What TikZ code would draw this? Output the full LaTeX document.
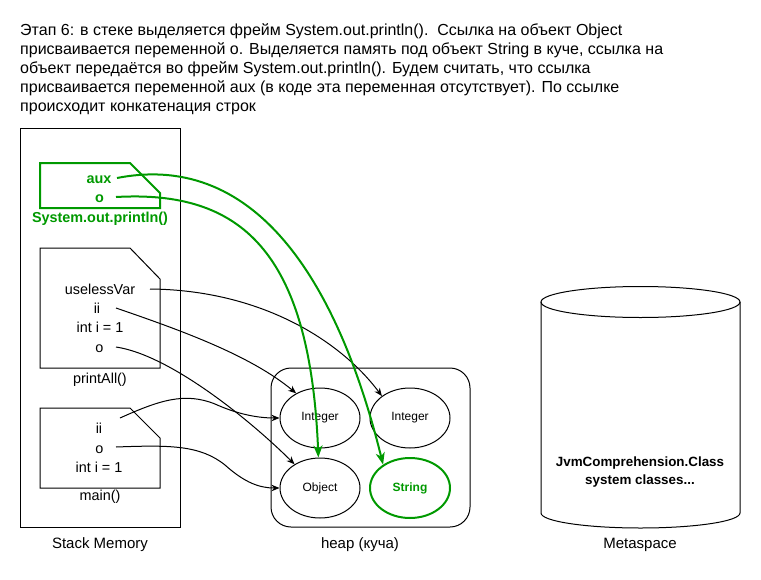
\documentclass[tikz,border=0pt]{standalone}
\usepackage{fontspec}
\setmainfont{Liberation Sans}
\usetikzlibrary{arrows.meta,shapes.geometric}
\definecolor{grn}{RGB}{0,153,0}
\begin{document}
\begin{tikzpicture}[x=1pt,y=-1pt,
  hdr/.style={anchor=base west, inner sep=0pt, font=\fontsize{16}{19}\selectfont},
  txt/.style={anchor=mid, inner sep=0pt, yshift=-2.5pt, font=\fontsize{14.4}{17}\selectfont},
  lbl/.style={anchor=mid, inner sep=0pt, yshift=-2.5pt, font=\fontsize{15}{17}\selectfont},
  gtxt/.style={anchor=mid, inner sep=0pt, yshift=-2pt, text=grn, font=\fontsize{14.4}{17}\selectfont\bfseries},
  mtxt/.style={anchor=mid, inner sep=0pt, yshift=-2pt, font=\fontsize{13.4}{16}\selectfont\bfseries},
  obj/.style={ellipse, draw, line width=1pt, minimum width=80pt, minimum height=60pt, inner sep=0pt, font=\fontsize{12}{14}\selectfont},
  frame/.style={draw, line width=1pt},
  conn/.style={draw, line width=1pt, -{Stealth[length=8pt,width=6.5pt,inset=2.5pt]}},
  gconn/.style={draw=grn, line width=2pt, -{Stealth[length=12pt,width=9pt,inset=3.5pt]}}
]
\useasboundingbox (0,0) rectangle (761,579);

% header
\node[hdr] (h1) at (20,35) {Этап 6: в стеке выделяется фрейм System.out.println().\ \ Ссылка на объект Object};
\node[hdr] (h2) at (20,54) {присваивается переменной o. Выделяется память под объект String в куче, ссылка на};
\node[hdr] (h3) at (20,73) {объект передаётся во фрейм System.out.println(). Будем считать, что ссылка};
\node[hdr] (h4) at (20,92) {присваивается переменной aux (в коде эта переменная отсутствует). По ссылке};
\node[hdr] (h5) at (20,111) {происходит конкатенация строк};

% stack memory
\draw[frame] (20,128) rectangle (180,527);
\node[lbl] (stacklbl) at (100,543) {Stack Memory};

% System.out.println() frame
\draw[draw=grn, line width=2pt] (40,163) -- (130,163) -- (160,193) -- (160,208) -- (40,208) -- cycle;
\node[gtxt] (aux) at (99,178.5) {aux};
\node[gtxt] (so) at (99.5,198) {o};
\node[gtxt] (sysl) at (100,218) {System.out.println()};
\coordinate (auxS) at (117,178);
\coordinate (soS) at (116,197);

% printAll frame
\draw[frame] (40,248) -- (130,248) -- (160,279) -- (160,368) -- (40,368) -- cycle;
\node[txt] (uv) at (100,289) {uselessVar};
\node[txt] (pii) at (97,308) {ii};
\node[txt] (pi) at (100,327) {int i = 1};
\node[txt] (po) at (99.5,347) {o};
\node[txt] (pal) at (100,378) {printAll()};
\coordinate (uvS) at (150,289);
\coordinate (piiS) at (116,308);
\coordinate (poS) at (116,347);

% main frame
\draw[frame] (40,408) -- (130,408) -- (160,438) -- (160,488) -- (40,488) -- cycle;
\node[txt] (mii) at (99,428) {ii};
\node[txt] (mo) at (99.5,448) {o};
\node[txt] (mi) at (99,467) {int i = 1};
\node[txt] (mainl) at (100,495) {main()};
\coordinate (miiS) at (120,418);
\coordinate (moS) at (116,447);

% heap
\draw[line width=1pt, rounded corners=20pt] (271,368) rectangle (470,527);
\node[lbl] (heaplbl) at (360,543) {heap (куча)};
\node[obj] (int1) at (320,418) {Integer};
\node[obj] (int2) at (410,418) {Integer};
\node[obj] (obj) at (320,488) {Object};
\node[obj, draw=grn, line width=2pt, text=grn, font=\fontsize{12}{14}\selectfont\bfseries] (str) at (410,488) {String};

% metaspace
\draw[line width=1pt] (541,302) -- (541,513) arc[start angle=180, end angle=360, x radius=99.5pt, y radius=15pt] -- (740,302);
\draw[line width=1pt] (640.5,302) ellipse [x radius=99.5pt, y radius=15.5pt];
\node[mtxt] (jvm) at (640,462) {JvmComprehension.Class};
\node[mtxt] (sysc) at (640,480) {system classes...};
\node[lbl] (metal) at (640,543) {Metaspace};

% black connectors
\draw[conn] (uvS) .. controls (260,290) and (340,340) .. (int2.142);
\draw[conn] (piiS) .. controls (180,330) and (250,355) .. (int1.134);
\draw[conn] (poS) .. controls (170,355) and (250,420) .. (obj.137);
\draw[conn] (miiS) .. controls (160,400) and (185,392) .. (215,404) .. controls (235,413) and (255,418) .. (int1.west);
\draw[conn] (moS) .. controls (170,445) and (200,445) .. (225,465) .. controls (245,483) and (260,488) .. (obj.west);

% green connectors
\draw[gconn] (auxS) .. controls (260,150) and (340,290) .. (str.139);
\draw[gconn] (soS) .. controls (240,190) and (310,250) .. (obj.93);
\end{tikzpicture}
\end{document}
